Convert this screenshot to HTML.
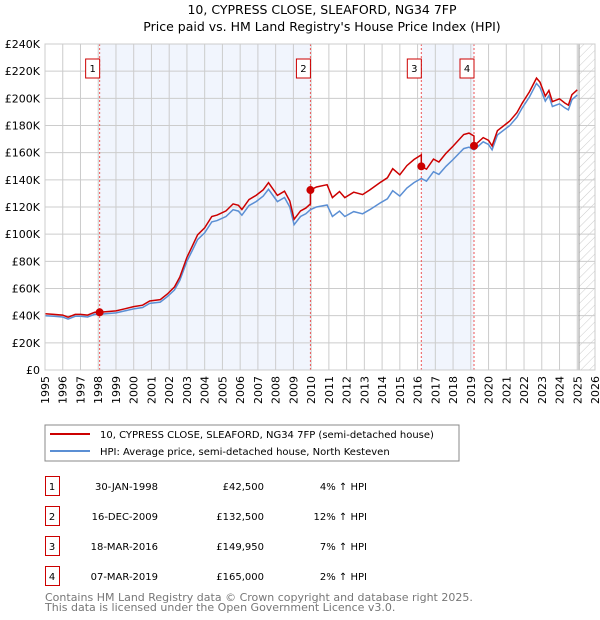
<!DOCTYPE html>
<html><head><meta charset="utf-8"><style>
body{margin:0;background:#fff;font-family:"Liberation Sans","DejaVu Sans",sans-serif;}
svg{display:block}
text{font-family:"DejaVu Sans","Liberation Sans",sans-serif;}
</style></head><body>
<svg id="chart" width="600" height="620">
<text x="322" y="14" text-anchor="middle" font-size="12.5" fill="#000">10, CYPRESS CLOSE, SLEAFORD, NG34 7FP</text>
<text x="322" y="31" text-anchor="middle" font-size="12.5" fill="#000">Price paid vs. HM Land Registry's House Price Index (HPI)</text>
<g id="plot"></g>
<rect x="45" y="425" width="414" height="36" fill="#fff" stroke="#888"/>
<line x1="50" y1="434" x2="90" y2="434" stroke="#cc0000" stroke-width="2"/>
<text x="100" y="438" font-size="10">10, CYPRESS CLOSE, SLEAFORD, NG34 7FP (semi-detached house)</text>
<line x1="50" y1="451" x2="90" y2="451" stroke="#5b8fd4" stroke-width="2"/>
<text x="100" y="455" font-size="10">HPI: Average price, semi-detached house, North Kesteven</text>
<g id="table" font-size="10"></g>
<text x="45" y="601" font-size="11" fill="#777">Contains HM Land Registry data © Crown copyright and database right 2025.</text>
<text x="45" y="611" font-size="11" fill="#777">This data is licensed under the Open Government Licence v3.0.</text>
</svg>
<script>
const hpiDates=[1995.0,1995.5,1996.0,1996.3,1996.7,1997.0,1997.4,1997.8,1998.08,1998.5,1999.0,1999.5,2000.0,2000.5,2000.9,2001.5,2001.9,2002.3,2002.6,2003.0,2003.3,2003.6,2004.0,2004.4,2004.7,2005.2,2005.6,2005.9,2006.1,2006.5,2006.9,2007.3,2007.6,2008.1,2008.5,2008.8,2009.04,2009.4,2009.7,2009.96,2010.3,2010.9,2011.2,2011.6,2011.9,2012.4,2012.9,2013.3,2013.9,2014.3,2014.6,2015.0,2015.4,2015.8,2016.21,2016.5,2016.9,2017.2,2017.6,2018.0,2018.6,2018.9,2019.18,2019.7,2020.0,2020.2,2020.5,2021.2,2021.6,2021.9,2022.3,2022.7,2022.9,2023.2,2023.4,2023.6,2024.0,2024.3,2024.5,2024.7,2025.0];
const hpiValues=[40,39.5,39,37.5,39.5,39.5,39,41,41,41.5,42,43.5,45,46,49,50,54,59,66,80,88,96,101,109,110,113,118,117,114,121,124,128,133,124,127,120,107,113,115,118,120,121.5,113,117,113,116.6,115,118,123,126,132,128,134,138,141,139,146,144,150,155,163,164,162,168,166,162,173,180,186,193,201,211,208,198,202,194,196,193,191.5,199,202.5];
const saleLabels=["1","2","3","4"];
const saleDates=[1998.08,2009.96,2016.21,2019.18];
const salePrices=[42500,132500,149950,165000];
const saleDateText=["30-JAN-1998","16-DEC-2009","18-MAR-2016","07-MAR-2019"];
const salePriceText=["£42,500","£132,500","£149,950","£165,000"];
const salePctText=["4% ↑ HPI","12% ↑ HPI","7% ↑ HPI","2% ↑ HPI"];
const yTicks=[0,20,40,60,80,100,120,140,160,180,200,220,240];
const yTickLabels=["£0","£20K","£40K","£60K","£80K","£100K","£120K","£140K","£160K","£180K","£200K","£220K","£240K"];
const xYears=[1995,1996,1997,1998,1999,2000,2001,2002,2003,2004,2005,2006,2007,2008,2009,2010,2011,2012,2013,2014,2015,2016,2017,2018,2019,2020,2021,2022,2023,2024,2025,2026];

const NS="http://www.w3.org/2000/svg";
const X0=45,X1=595,Y0=370,Y1=44;
const xs=t=>X0+(t-1995)/31*(X1-X0);
const ys=v=>Y0-v/240*(Y0-Y1);
const plot=document.getElementById('plot');
function mk(tag,attrs,parent){const e=document.createElementNS(NS,tag);for(const k in attrs)e.setAttribute(k,attrs[k]);(parent||plot).appendChild(e);return e;}
function hpiAt(t){if(t<=hpiDates[0])return hpiValues[0];for(let i=1;i<hpiDates.length;i++){if(t<=hpiDates[i]){const f=(t-hpiDates[i-1])/(hpiDates[i]-hpiDates[i-1]);return hpiValues[i-1]+f*(hpiValues[i]-hpiValues[i-1]);}}return hpiValues[hpiValues.length-1];}

let bg=mk('rect',{x:X0,y:Y1,width:X1-X0,height:Y0-Y1,fill:'#fff'});


[[0,1],[2,3]].forEach(p=>{
 const r=mk('rect',{x:xs(saleDates[p[0]]),y:Y1,width:xs(saleDates[p[1]])-xs(saleDates[p[0]]),height:Y0-Y1,fill:'#eef3fc',opacity:0.8});
 
 
});
const defs=mk('defs',{});
const pat=mk('pattern',{id:'hatch',width:6,height:6,patternUnits:'userSpaceOnUse',patternTransform:'rotate(45)'},defs);
mk('line',{x1:0,y1:0,x2:0,y2:6,stroke:'#ccc','stroke-width':1},pat);
const hx=xs(2025.1);
const hr=mk('rect',{x:hx,y:Y1,width:X1-hx,height:Y0-Y1,fill:'url(#hatch)'});


yTicks.forEach((v,i)=>{
 const l=mk('line',{x1:X0,x2:X1,y1:ys(v),y2:ys(v),stroke:'#ccc','stroke-width':1});
 
 
 const t=mk('text',{x:X0-5,y:ys(v)+4,'text-anchor':'end','font-size':11,fill:'#000'});
 t.textContent=yTickLabels[i];
 
 
});
xYears.forEach(yr=>{
 const l=mk('line',{x1:xs(yr),x2:xs(yr),y1:Y1,y2:Y0,stroke:'#ccc','stroke-width':1});
 
 
 const t=mk('text',{x:0,y:0,'text-anchor':'end','font-size':11,fill:'#000',transform:`translate(${xs(yr)+4},${Y0+6}) rotate(-90)`});
 t.textContent=yr;
 
 
});
const ln=mk('line',{x1:xs(2025.1),x2:xs(2025.1),y1:Y1,y2:Y0,stroke:'#999','stroke-width':1});


saleDates.forEach((d,i)=>{
 const l=mk('line',{x1:xs(d),x2:xs(d),y1:Y1,y2:Y0,stroke:'#e55','stroke-width':1,'stroke-dasharray':'2,2'});
 
 
 const b=mk('rect',{x:xs(d)-14,y:59,width:14,height:19,fill:'#fff',stroke:'#cc0000'});
 
 
 const t=mk('text',{x:xs(d)-7,y:72,'text-anchor':'middle','font-size':10});
 t.textContent=saleLabels[i];
 
 
});
let dh='';
hpiDates.forEach((d,i)=>{dh+=(i?'L':'M')+xs(d).toFixed(1)+','+ys(hpiValues[i]).toFixed(1);});
const hp=mk('path',{d:dh,fill:'none',stroke:'#5b8fd4','stroke-width':1.5});


const ratios=saleDates.map((d,i)=>salePrices[i]/1000/hpiAt(d));
const pts=[];
const allT=Array.from(new Set(hpiDates.concat(saleDates))).sort((a,b)=>a-b);
allT.forEach(t=>{
 let k=0;for(let i=0;i<saleDates.length;i++)if(t>=saleDates[i])k=i;
 const si=saleDates.indexOf(t);
 if(si>0){pts.push([t,hpiAt(t)*ratios[si-1]]);}
 pts.push([t,hpiAt(t)*ratios[k]]);
});
let dp='';pts.forEach((p,i)=>{dp+=(i?'L':'M')+xs(p[0]).toFixed(1)+','+ys(p[1]).toFixed(1);});
const pp=mk('path',{d:dp,fill:'none',stroke:'#cc0000','stroke-width':1.5});


saleDates.forEach((d,i)=>{
 const c=mk('circle',{cx:xs(d),cy:ys(salePrices[i]/1000),r:4,fill:'#cc0000'});
 
 
});
const ax=mk('rect',{x:X0,y:Y1,width:X1-X0,height:Y0-Y1,fill:'none',stroke:'#ccc'});


const tb=document.getElementById('table');
saleLabels.forEach((s,i)=>{
 const y=476+i*30;
 const b=mk('rect',{x:45.5,y:y+0.5,width:14,height:19,fill:'#fff',stroke:'#cc0000'},tb);
 
 
 const vals=[[52,s,'middle','table-sale-number'],[158,saleDateText[i],'end','table-sale-date'],[264,salePriceText[i],'end','table-sale-price'],[367,salePctText[i],'end','table-sale-hpi-diff']];
 vals.forEach(v=>{
  const t=mk('text',{x:v[0],y:y+14,'text-anchor':v[2],'font-size':10},tb);
  t.textContent=v[1];
  
  
 });
});
</script>
</body></html>
